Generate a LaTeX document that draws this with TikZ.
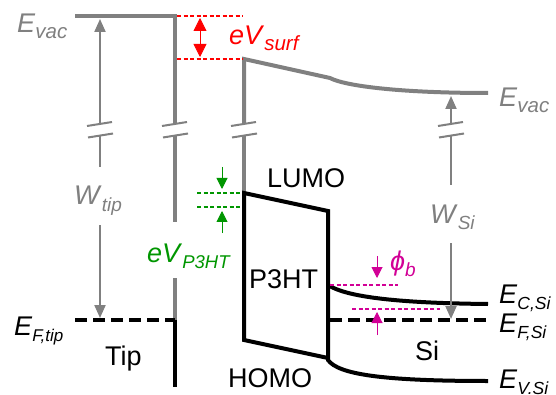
\documentclass[tikz,border=0pt]{standalone}
\usepackage{fontspec}
\setmainfont{Liberation Sans}
\usetikzlibrary{arrows.meta}
\definecolor{lgray}{RGB}{128,128,128}
\definecolor{lred}{RGB}{255,0,0}
\definecolor{lgreen}{RGB}{0,150,0}
\definecolor{lmag}{RGB}{210,0,150}
\newcommand{\lowsub}[2][18]{\raisebox{-6pt}{\fontsize{#1}{#1}\selectfont\itshape #2}}
\begin{document}
\begin{tikzpicture}[x=1pt,y=-1pt,
  thickgray/.style={draw=lgray, line width=4pt},
  band/.style={draw=black, line width=4pt, line join=miter},
  fermi/.style={draw=black, line width=4pt, dash pattern=on 12pt off 6pt},
  brk/.style={draw=lgray, line width=2pt},
  garrow/.style={draw=lgray, line width=2pt, -{Triangle[width=11pt,length=13pt]}},
  reddash/.style={draw=lred, line width=1.2pt, dash pattern=on 4pt off 2.5pt},
  greendash/.style={draw=lgreen, line width=1.2pt, dash pattern=on 4pt off 2.5pt},
  magdash/.style={draw=lmag, line width=1.2pt, dash pattern=on 4pt off 2.5pt},
  smallarrow/.style={line width=1pt, -{Triangle[width=11pt,length=11pt]}},
  lbl/.style={font=\fontsize{27}{27}\selectfont, inner sep=0pt, anchor=base west}]
\useasboundingbox (0,0) rectangle (556,395);
\fill[white] (0,0) rectangle (556,395);

% break marks
\foreach \bx in {100,175,244,451} {
  \draw[brk] (\bx-13,126) -- (\bx+12,122);
  \draw[brk] (\bx-12,137.5) -- (\bx+13,133.5);
}

% tip side
\draw[thickgray] (75,16) -- (175,16) -- (175,124);
\draw[thickgray] (175,135) -- (175,222);
\draw[thickgray] (175,278) -- (175,320);
\draw[band] (175,320) -- (175,387);
\draw[fermi] (75,320) -- (175,320);

% organic vacuum level
\draw[thickgray, line join=miter] (244,124) -- (244,59) -- (330,78) .. controls (345,86) and (400,93) .. (488,93);
\draw[thickgray] (244,135) -- (244,193);

% P3HT box and Si bands
\draw[band] (328,358) -- (244,340) -- (244,193) -- (328,211) -- (328,360) .. controls (338,374) and (380,381) .. (488,381);
\draw[band] (328,285) .. controls (345,296) and (390,303) .. (488,304);
\draw[fermi] (330,320) -- (488,320);

% gray arrows
\draw[garrow] (100,124) -- (100,19);
\draw[brk] (100,135) -- (100,167);
\draw[garrow] (100,225) -- (100,318);
\draw[garrow] (451,123) -- (451,96);
\draw[brk] (451,135) -- (451,185);
\draw[garrow] (451,243) -- (451,319);

% red eVsurf
\draw[reddash] (177,16) -- (243,16);
\draw[reddash] (177,59) -- (243,59);
\draw[draw=lred, fill=lred, line width=0.8pt, {Triangle[width=13pt,length=13pt]}-{Triangle[width=13pt,length=13pt]}] (200,18) -- (200,57);

% green eVP3HT
\draw[greendash] (197,193) -- (240,193);
\draw[greendash] (197,207) -- (240,207);
\draw[draw=lgreen, smallarrow] (222,167) -- (222,189);
\draw[draw=lgreen, smallarrow] (222,233) -- (222,211);

% magenta phi_b
\draw[magdash] (330,285) -- (398,285);
\draw[magdash] (352,309) -- (440,309);
\draw[draw=lmag, smallarrow] (377,256) -- (377,278);
\draw[draw=lmag, smallarrow] (377,335) -- (377,312);

% labels
\node[lbl, text=lgray] (evacL) at (17,33) {\textit{E}\lowsub[20.5]{vac}};
\node[lbl, text=lgray] (evacR) at (499,107) {\textit{E}\lowsub[20.5]{vac}};
\node[lbl, text=lred] (evs) at (229,45) {\textit{eV}\lowsub[20.5]{surf}};
\node[lbl, text=lgray] (wtip) at (74,205) {\textit{W}\lowsub[19]{tip}};
\node[lbl, text=lgreen] (evp) at (147,262) {\textit{eV}\lowsub[18.5]{P3HT}};
\node[lbl] (eft) at (14,335) {\textit{E}\lowsub[17]{F,tip}};
\node[lbl] (tip) at (105,365) {Tip};
\node[lbl] (lumo) at (267,188) {LUMO};
\node[lbl] (p3ht) at (249,288) {P3HT};
\node[lbl] (homo) at (228,387) {HOMO};
\node[lbl] (si) at (415,360) {Si};
\node[lbl, text=lgray] (wsi) at (430,223) {\textit{W}\lowsub[19]{Si}};
\node[lbl, text=lmag] (phib) at (390,270) {\textit{ϕ}\lowsub[19]{b}};
\node[lbl] (ecsi) at (499,303) {\textit{E}\lowsub[17.5]{C,Si}};
\node[lbl] (efsi) at (499,332) {\textit{E}\lowsub[17.5]{F,Si}};
\node[lbl] (evsi) at (499,388) {\textit{E}\lowsub[17.5]{V.Si}};
\end{tikzpicture}
\end{document}
